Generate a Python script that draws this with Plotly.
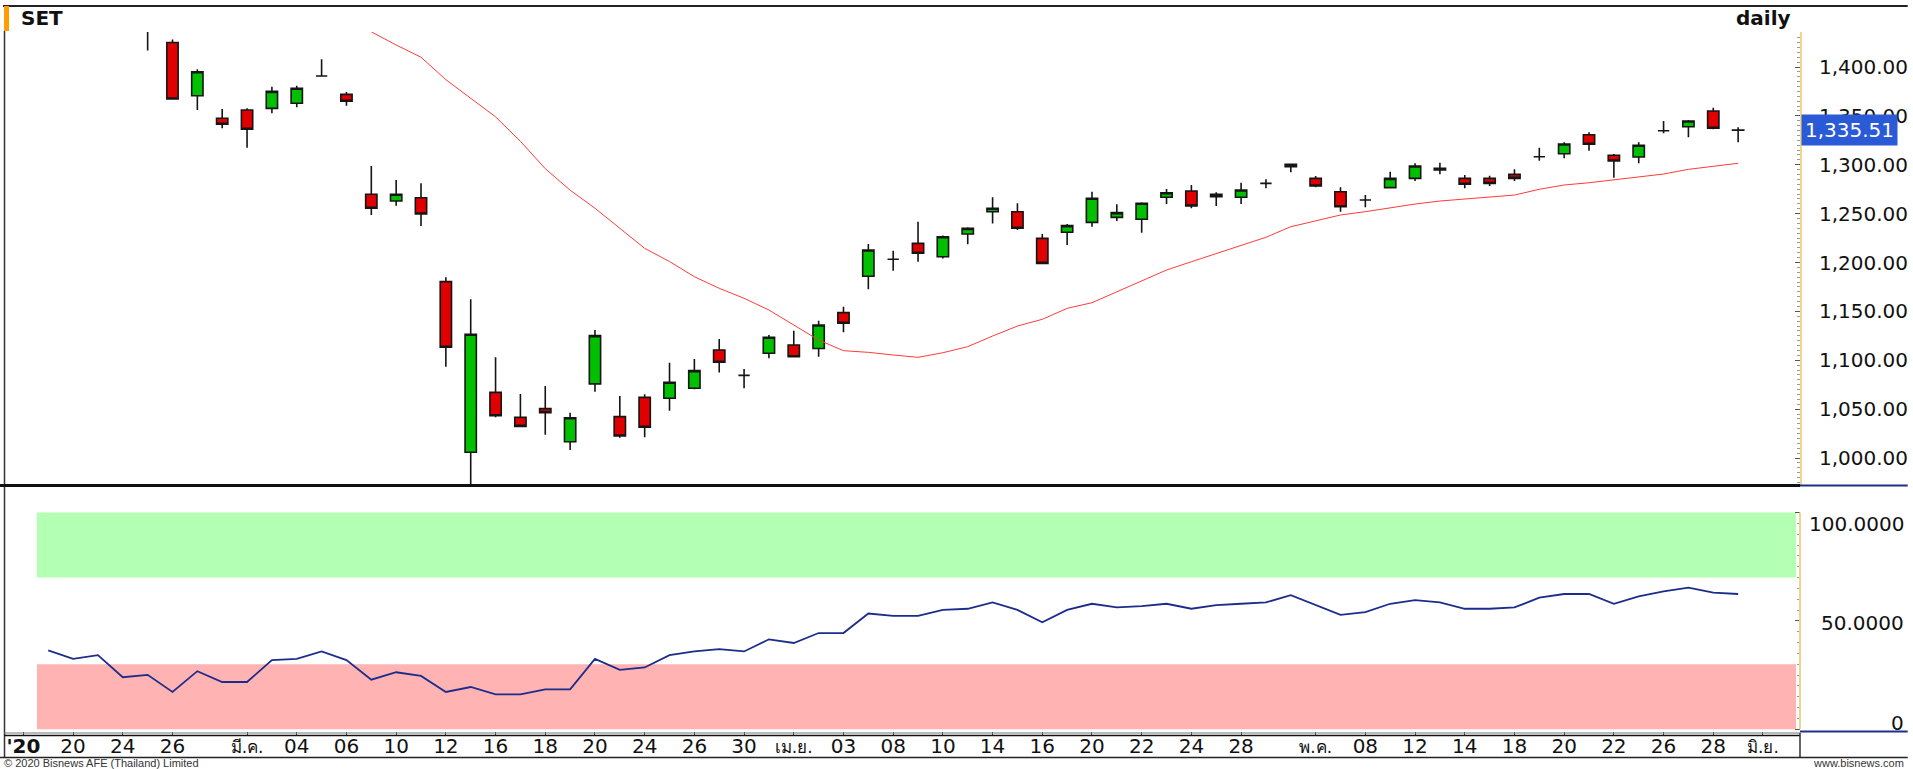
import plotly.graph_objects as go

# ---------------- data ----------------
days = ['2020-02-18', '2020-02-19', '2020-02-20', '2020-02-21', '2020-02-24',
        '2020-02-25', '2020-02-26', '2020-02-27', '2020-02-28',
        '2020-03-02', '2020-03-03', '2020-03-04', '2020-03-05', '2020-03-06',
        '2020-03-09', '2020-03-10', '2020-03-11', '2020-03-12', '2020-03-13',
        '2020-03-16', '2020-03-17', '2020-03-18', '2020-03-19', '2020-03-20',
        '2020-03-23', '2020-03-24', '2020-03-25', '2020-03-26', '2020-03-27',
        '2020-03-30', '2020-03-31', '2020-04-01', '2020-04-02', '2020-04-03',
        '2020-04-07', '2020-04-08', '2020-04-09', '2020-04-10',
        '2020-04-13', '2020-04-14', '2020-04-15', '2020-04-16', '2020-04-17',
        '2020-04-20', '2020-04-21', '2020-04-22', '2020-04-23', '2020-04-24',
        '2020-04-27', '2020-04-28', '2020-04-29', '2020-04-30',
        '2020-05-05', '2020-05-07', '2020-05-08',
        '2020-05-11', '2020-05-12', '2020-05-13', '2020-05-14', '2020-05-15',
        '2020-05-18', '2020-05-19', '2020-05-20', '2020-05-21', '2020-05-22',
        '2020-05-25', '2020-05-26', '2020-05-27', '2020-05-28', '2020-05-29',
        '2020-06-01']

candle_days = days[5:70]          # 2020-02-25 .. 2020-05-29
rsi_days = days[1:70]             # 2020-02-19 .. 2020-05-29
ma_days = days[14:70]             # 2020-03-09 .. 2020-05-29

opens = [1470, 1425, 1370.6, 1347.5, 1356, 1357.7, 1362.9, 1390.8, 1372,
         1269.8, 1262.9, 1266.3, 1180.4, 1005.9, 1067.2, 1041.6, 1050.5, 1016.6, 1075.8,
         1042.3, 1062, 1061.1, 1071.3, 1110.5, 1084.5, 1107.1, 1115.6, 1112.1, 1148.7,
         1185.9, 1203.3, 1219.6, 1205.9, 1229.1, 1252, 1252, 1224.7, 1230.9,
         1241.1, 1246.2, 1244.2, 1266.7, 1273.1, 1269.8, 1266.7, 1281, 1298,
         1286.1, 1272.4, 1263.9, 1276.6, 1286.1, 1296.4, 1286.1, 1286.1,
         1290.2, 1308.2, 1311.3, 1330.7, 1309.7, 1307.9, 1334.8, 1338.9, 1355, 1335.3]
highs = [1478, 1428, 1397.6, 1357, 1357.7, 1379.9, 1380.9, 1407.8, 1374.4,
         1298.7, 1284.4, 1281, 1185, 1162.4, 1103, 1065.5, 1073.7, 1046.4, 1131,
         1063.4, 1065.2, 1097.5, 1101.3, 1121.7, 1091, 1125.8, 1130.2, 1140.5, 1154.8,
         1218.9, 1212.1, 1241.8, 1227.7, 1236, 1266.7, 1260.6, 1229.1, 1239.4,
         1272.4, 1259.5, 1261.6, 1275.2, 1279.3, 1271.8, 1281.6, 1285.1, 1300.8,
         1288.5, 1276.9, 1269, 1292.9, 1301.5, 1302.1, 1289.5, 1288.8,
         1295.3, 1317.4, 1323, 1333.2, 1311, 1323, 1344.8, 1345.8, 1358.4, 1338.3]
lows = [1417, 1367, 1356, 1337.3, 1317.5, 1352.6, 1358.8, 1390.8, 1360.4,
        1248.6, 1258.1, 1237.3, 1093.4, 969, 1041.6, 1031.4, 1023.9, 1008.2, 1067.9,
        1020.8, 1021.2, 1048.4, 1070.3, 1087.6, 1071.3, 1102, 1103, 1103.6, 1128.6,
        1172.6, 1191.6, 1200.8, 1204.2, 1218.6, 1240, 1233.3, 1198.5, 1217.9,
        1236.6, 1242.5, 1230.5, 1259.8, 1255.5, 1257.8, 1259.8, 1275.9, 1292.3,
        1277, 1252, 1256.5, 1276, 1283.4, 1290.2, 1275.9, 1278.3,
        1283.4, 1304.1, 1306.6, 1314.4, 1286.8, 1301.5, 1332.2, 1328.1, 1336.3, 1323]
closes = [1445, 1367.3, 1395.2, 1341.4, 1336.3, 1375.1, 1378.2, 1390.8, 1365,
          1255.5, 1269.8, 1249.6, 1113.3, 1126.6, 1043.3, 1032.4, 1046.4, 1041.2, 1125.2,
          1022.5, 1031.4, 1077.5, 1089.4, 1097.9, 1084.5, 1123.5, 1103.6, 1136, 1137.8,
          1212.8, 1203.3, 1209.4, 1226.4, 1234.9, 1255.5, 1235, 1199.1, 1237.7,
          1265.7, 1251, 1260.6, 1271.4, 1257.8, 1267.3, 1274.2, 1281, 1300.5,
          1278.3, 1257.1, 1263.9, 1286.1, 1298.7, 1294.6, 1280, 1281,
          1286.1, 1308.2, 1321.2, 1320.9, 1303.8, 1319.9, 1334.8, 1344.8, 1337.3, 1335.51]

ma_values = [1436, 1422.5, 1410, 1387, 1368, 1349, 1324, 1296, 1274, 1255.5,
             1235, 1214.5, 1201, 1185.5, 1173.6, 1163.4, 1151.4, 1136, 1120.7, 1109.8,
             1108.1, 1105.4, 1103, 1107.7, 1113.9, 1124.8, 1135, 1141.9, 1153.1, 1158.9,
             1170.1, 1181.5, 1192.3, 1200.8, 1209.4, 1217.9, 1225.8, 1236.6, 1242.8, 1248.6,
             1252, 1256.1, 1259.8, 1262.9, 1265, 1266.7, 1269, 1274.9, 1279.3, 1281.6,
             1284.4, 1287.8, 1290.5, 1295.3, 1298.7, 1301.5]

rsi_values = [36.4, 32.5, 34.2, 24, 25.1, 17.2, 26.8, 21.8, 21.8, 31.9,
              32.5, 35.9, 31.9, 22.9, 26.3, 24.6, 17.2, 19.5, 16.1, 16.1,
              18.4, 18.4, 32.5, 27.4, 28.5, 34.2, 35.9, 37, 35.9, 41.5,
              39.8, 44.4, 44.4, 53.4, 52.3, 52.3, 55.1, 55.6, 58.5, 55.1,
              49.4, 55.1, 57.9, 56.2, 56.8, 57.9, 55.6, 57.3, 57.9, 58.5,
              61.9, 57.3, 52.8, 54, 57.9, 59.6, 58.5, 55.6, 55.6, 56.2,
              60.7, 62.4, 62.4, 57.9, 61.3, 63.6, 65.3, 63, 62.4]

tick_days = ['2020-02-18', '2020-02-20', '2020-02-24', '2020-02-26', '2020-03-02',
             '2020-03-04', '2020-03-06', '2020-03-10', '2020-03-12', '2020-03-16',
             '2020-03-18', '2020-03-20', '2020-03-24', '2020-03-26', '2020-03-30',
             '2020-04-01', '2020-04-03', '2020-04-08', '2020-04-10', '2020-04-14',
             '2020-04-16', '2020-04-20', '2020-04-22', '2020-04-24', '2020-04-28',
             '2020-05-05', '2020-05-08', '2020-05-12', '2020-05-14', '2020-05-18',
             '2020-05-20', '2020-05-22', '2020-05-26', '2020-05-28', '2020-06-01']
tick_text = ["<b>'20</b>", '20', '24', '26', 'มี.ค.',
             '04', '06', '10', '12', '16',
             '18', '20', '24', '26', '30',
             'เม.ย.', '03', '08', '10', '14',
             '16', '20', '22', '24', '28',
             'พ.ค.', '08', '12', '14', '18',
             '20', '22', '26', '28', 'มิ.ย.']
month_labels = ['มี.ค.', 'เม.ย.', 'พ.ค.', 'มิ.ย.']

last_price = 1335.51
rsi_labels = [(100, '100.0000'), (50, '50.0000'), (0, '0')]

# ---------------- layout helpers ----------------
W, H = 1913, 769
ML, MR, MT, MB = 5, 108, 32, 38
PW, PH = W - ML - MR, H - MT - MB
FONT = 'DejaVu Sans, Noto Sans, Liberation Sans, sans-serif'


def px(x):
    return (x - ML) / PW


def py(y):
    return (H - MB - y) / PH


ticktext_fmt = [
    ('<span style="font-size:17px">%s</span>' % t) if t in month_labels else t
    for t in tick_text
]

fig = go.Figure()
fig.add_trace(go.Candlestick(
    x=candle_days, open=opens, high=highs, low=lows, close=closes,
    increasing=dict(line=dict(color='#151515', width=1.6), fillcolor='#00c000'),
    decreasing=dict(line=dict(color='#151515', width=1.6), fillcolor='#e00000'),
    whiskerwidth=0, xaxis='x', yaxis='y', showlegend=False, hoverinfo='skip'))
fig.add_trace(go.Scatter(
    x=ma_days, y=ma_values, mode='lines', line=dict(color='#ff3b3b', width=1),
    xaxis='x', yaxis='y', showlegend=False, hoverinfo='skip'))
fig.add_trace(go.Scatter(
    x=rsi_days, y=rsi_values, mode='lines', line=dict(color='#1c2c8a', width=1.8),
    xaxis='x', yaxis='y2', showlegend=False, hoverinfo='skip'))

shapes = [
    # bands in the RSI panel
    dict(type='rect', xref='paper', yref='y2', x0=px(37), x1=px(1801), y0=70, y1=100,
         fillcolor='#b3ffb3', line=dict(width=0), layer='below'),
    dict(type='rect', xref='paper', yref='y2', x0=px(37), x1=px(1801), y0=0, y1=30,
         fillcolor='#ffb3b3', line=dict(width=0), layer='below'),
    # frame lines
    dict(type='line', xref='paper', yref='paper', x0=px(3), x1=px(1913), y0=py(6), y1=py(6),
         line=dict(color='#222', width=2)),
    dict(type='rect', xref='paper', yref='paper', x0=px(4), x1=px(9), y0=py(31), y1=py(6),
         fillcolor='#ff9c00', line=dict(width=0)),
    dict(type='line', xref='paper', yref='paper', x0=px(4.5), x1=px(4.5), y0=py(31), y1=py(758),
         line=dict(color='#333', width=1.5)),
    dict(type='line', xref='paper', yref='paper', x0=px(0), x1=px(1805), y0=py(485.5), y1=py(485.5),
         line=dict(color='#111', width=3)),
    dict(type='line', xref='paper', yref='paper', x0=px(1805), x1=px(1913), y0=py(485.5), y1=py(485.5),
         line=dict(color='#1f2f86', width=2)),
    dict(type='line', xref='paper', yref='y2', x0=1, x1=1, y0=0, y1=100,
         line=dict(color='#f2d58c', width=2)),
    dict(type='line', xref='paper', yref='paper', x0=px(1805), x1=px(1913), y0=py(731.5), y1=py(731.5),
         line=dict(color='#1f2f86', width=2)),
    dict(type='line', xref='paper', yref='paper', x0=px(4), x1=px(1805), y0=py(733), y1=py(733),
         line=dict(color='#777', width=1)),
    dict(type='line', xref='paper', yref='paper', x0=px(4), x1=px(1805), y0=py(735.5), y1=py(735.5),
         line=dict(color='#111', width=1.5)),
    dict(type='line', xref='paper', yref='paper', x0=px(1805), x1=px(1805), y0=py(733), y1=py(758),
         line=dict(color='#333', width=1.5)),
    dict(type='line', xref='paper', yref='paper', x0=px(0), x1=px(1913), y0=py(757.5), y1=py(757.5),
         line=dict(color='#222', width=1.5)),
]

annotations = [
    dict(text='<b>SET</b>', xref='paper', yref='paper', x=px(19), y=py(18),
         xanchor='left', yanchor='middle', showarrow=False, font=dict(size=20, color='#111')),
    dict(text='<b>daily</b>', xref='paper', yref='paper', x=px(1798), y=py(18),
         xanchor='right', yanchor='middle', showarrow=False, font=dict(size=20, color='#111')),
    dict(text=f'{last_price:,.2f}', xref='paper', yref='y', x=px(1806), y=last_price, yshift=0,
         xanchor='left', yanchor='middle', showarrow=False, bgcolor='#2b5ad6', borderpad=3,
         font=dict(size=20, color='white')),
    dict(text='© 2020 Bisnews AFE (Thailand) Limited', xref='paper', yref='paper',
         x=px(2), y=py(763), xanchor='left', yanchor='middle', showarrow=False,
         font=dict(size=11, color='#333', family='Liberation Sans, Arial, sans-serif')),
    dict(text='www.bisnews.com', xref='paper', yref='paper',
         x=px(1911), y=py(763), xanchor='right', yanchor='middle', showarrow=False,
         font=dict(size=11, color='#333', family='Liberation Sans, Arial, sans-serif')),
]
label_shift = {100: 3, 50: -2, 0: -8}
for val, txt in rsi_labels:
    anchor = 'top' if val == 100 else ('bottom' if val == 0 else 'middle')
    annotations.append(dict(text=txt, xref='paper', yref='y2', x=px(1911), y=val,
                            yshift=label_shift[val],
                            xanchor='right', yanchor=anchor, showarrow=False,
                            font=dict(size=20, color='#111')))

fig.update_layout(
    width=W, height=H, margin=dict(l=ML, r=MR, t=MT, b=MB),
    paper_bgcolor='white', plot_bgcolor='white', showlegend=False, boxgap=0.35,
    font=dict(family=FONT, color='#111'),
    xaxis=dict(type='category', categoryorder='array', categoryarray=days,
               range=[-0.74, 71.49], anchor='y2', tickmode='array',
               tickvals=tick_days, ticktext=ticktext_fmt, ticks='outside', ticklen=4,
               tickcolor='#444', tickfont=dict(size=20, color='#111'), ticklabelstandoff=-7,
               showgrid=False, zeroline=False, showline=False,
               rangeslider=dict(visible=False), fixedrange=True),
    yaxis=dict(domain=[py(485), 1], range=[972.4, 1435.8], side='right', anchor='x',
               showgrid=False, zeroline=False, showline=True, linecolor='#f2d58c', linewidth=2,
               ticks='inside', ticklen=5, tickcolor='#555', tick0=1000, dtick=50,
               tickformat=',.2f', tickfont=dict(size=20, color='#111'), ticklabelstandoff=13,
               minor=dict(tick0=1000, dtick=5, ticks='inside', ticklen=3, tickcolor='#999',
                          showgrid=False),
               fixedrange=True),
    yaxis2=dict(domain=[0, py(486.5)], range=[-0.8, 112], side='right', anchor='x',
                showgrid=False, zeroline=False, showline=False, showticklabels=False,
                ticks='inside', ticklen=5, tickcolor='#555', tickmode='array',
                tickvals=[0, 50, 100],
                minor=dict(tickmode='array', tickvals=list(range(0, 101, 5)), ticks='inside',
                           ticklen=3, tickcolor='#999', showgrid=False),
                fixedrange=True),
    shapes=shapes, annotations=annotations,
)

fig.write_html('out.html')
